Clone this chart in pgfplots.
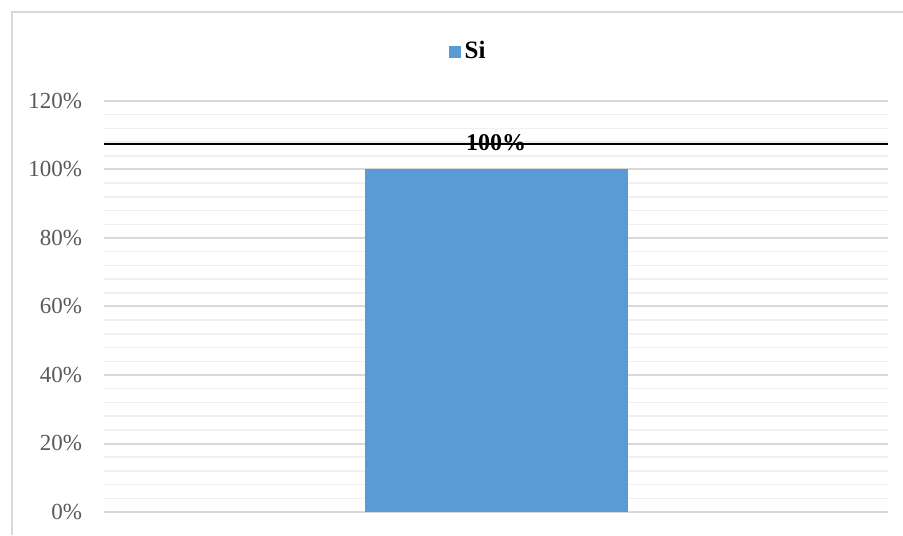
\documentclass[border=0pt]{standalone}
\usepackage{fontspec}
\setmainfont{Liberation Serif}
\usepackage{pgfplots}
\pgfplotsset{compat=1.18}
\definecolor{barblue}{HTML}{5B9BD5}
\definecolor{gridmajor}{HTML}{D9D9D9}
\definecolor{gridminor}{HTML}{F0F0F0}
\definecolor{ticktext}{HTML}{595959}
\begin{document}
\begin{tikzpicture}
\useasboundingbox (0,0) rectangle (451.5pt,267.5pt);
% outer chart frame
\draw[gridmajor, line width=0.75pt] (6pt,0) -- (6pt,261.5pt) -- (451.5pt,261.5pt);
\begin{axis}[
  at={(52pt,11.5pt)}, anchor=south west,
  scale only axis, width=392pt, height=205.5pt,
  xmin=-1.5, xmax=1.5, ymin=0, ymax=120,
  xtick=\empty,
  ytick={0,20,...,120},
  minor y tick num=4,
  ymajorgrids, yminorgrids,
  major grid style={gridmajor, line width=1pt},
  minor grid style={gridminor, line width=0.75pt},
  axis line style={draw=none},
  major tick length=0pt, minor tick length=0pt,
  /pgf/number format/assume math mode=true,
  yticklabel={\pgfmathprintnumber{\tick}\%},
  yticklabel style={font=\fontsize{11.5}{13}\selectfont, text=ticktext, xshift=-7.5pt},
  legend style={at={(0.4656,1.12)}, anchor=center, draw=none, fill=none,
    font=\fontsize{12.5}{14}\selectfont\bfseries, inner sep=0pt},
  legend image code/.code={\fill[barblue] (0pt,-3pt) rectangle (6pt,3pt);},
  clip=false,
]
\addplot[ybar, bar width=131.5pt, fill=barblue, draw=none,
  nodes near coords={\pgfmathprintnumber{\pgfplotspointmeta}\%},
  nodes near coords style={anchor=center, yshift=13.5pt, text=black,
    font=\fontsize{12}{14}\selectfont\bfseries}]
  coordinates {(0,100)};
\addlegendentry{Si}
\addplot[black, line width=1pt, forget plot] coordinates {(-1.5,107.4) (1.5,107.4)};
\end{axis}
\end{tikzpicture}
\end{document}
